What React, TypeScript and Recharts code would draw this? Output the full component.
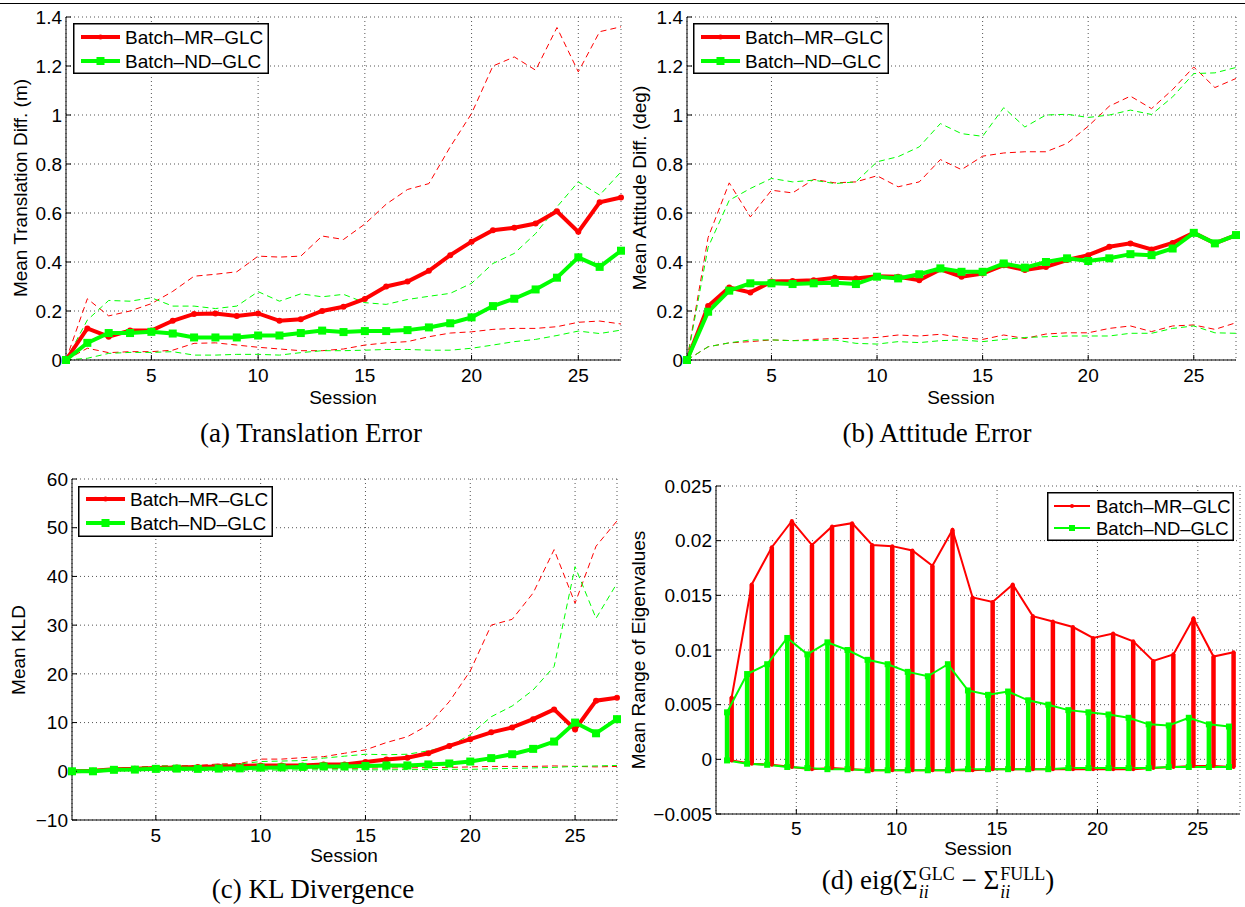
import React from "react";
import {
  CartesianGrid,
  ErrorBar,
  Legend,
  Line,
  LineChart,
  XAxis,
  YAxis,
} from "recharts";

// ---- data ----
const SESSIONS = [1, 2, 3, 4, 5, 6, 7, 8, 9, 10, 11, 12, 13, 14, 15, 16, 17, 18, 19, 20, 21, 22, 23, 24, 25, 26, 27];
const EIG_SESSIONS = [2, 3, 4, 5, 6, 7, 8, 9, 10, 11, 12, 13, 14, 15, 16, 17, 18, 19, 20, 21, 22, 23, 24, 25, 26, 27];
const X_TICKS = [5, 10, 15, 20, 25];

// (a) translation error
const transMr = [0, 0.129, 0.095, 0.12, 0.12, 0.16, 0.188, 0.19, 0.18, 0.19, 0.16, 0.166, 0.2, 0.217, 0.249, 0.3, 0.32, 0.364, 0.428, 0.483, 0.53, 0.54, 0.557, 0.607, 0.523, 0.644, 0.663];
const transNd = [0, 0.07, 0.11, 0.11, 0.115, 0.108, 0.092, 0.092, 0.092, 0.1, 0.1, 0.11, 0.12, 0.114, 0.118, 0.118, 0.122, 0.133, 0.15, 0.174, 0.22, 0.25, 0.288, 0.336, 0.419, 0.38, 0.446];
const transMrHi = [0, 0.25, 0.18, 0.2, 0.23, 0.28, 0.342, 0.35, 0.36, 0.424, 0.42, 0.424, 0.506, 0.492, 0.555, 0.636, 0.696, 0.72, 0.87, 1.006, 1.2, 1.237, 1.183, 1.357, 1.176, 1.34, 1.36];
const transNdHi = [0, 0.163, 0.243, 0.24, 0.254, 0.22, 0.22, 0.21, 0.22, 0.279, 0.24, 0.27, 0.258, 0.268, 0.234, 0.227, 0.247, 0.26, 0.272, 0.313, 0.394, 0.435, 0.516, 0.625, 0.727, 0.673, 0.768];
const transMrLo = [0, 0.048, 0.03, 0.034, 0.034, 0.04, 0.068, 0.07, 0.061, 0.052, 0.045, 0.038, 0.038, 0.045, 0.061, 0.07, 0.075, 0.095, 0.11, 0.115, 0.125, 0.129, 0.129, 0.136, 0.154, 0.159, 0.147];
const transNdLo = [0, 0.007, 0.027, 0.031, 0.031, 0.034, 0.02, 0.02, 0.023, 0.023, 0.02, 0.03, 0.038, 0.038, 0.04, 0.043, 0.043, 0.04, 0.04, 0.048, 0.061, 0.075, 0.084, 0.1, 0.118, 0.108, 0.122];

// (b) attitude error
const attMr = [0, 0.22, 0.296, 0.276, 0.32, 0.322, 0.326, 0.336, 0.333, 0.342, 0.34, 0.326, 0.37, 0.34, 0.353, 0.387, 0.367, 0.38, 0.408, 0.428, 0.462, 0.476, 0.451, 0.478, 0.519, 0.476, 0.51];
const attNd = [0, 0.197, 0.283, 0.313, 0.313, 0.31, 0.313, 0.315, 0.31, 0.34, 0.333, 0.35, 0.374, 0.36, 0.36, 0.394, 0.377, 0.4, 0.415, 0.404, 0.415, 0.432, 0.428, 0.455, 0.519, 0.476, 0.51];
const attMrHi = [0, 0.5, 0.723, 0.584, 0.693, 0.682, 0.737, 0.723, 0.727, 0.752, 0.707, 0.727, 0.818, 0.777, 0.832, 0.845, 0.85, 0.85, 0.884, 0.954, 1.036, 1.077, 1.026, 1.104, 1.196, 1.112, 1.149];
const attNdHi = [0, 0.46, 0.652, 0.7, 0.741, 0.727, 0.734, 0.72, 0.727, 0.809, 0.83, 0.87, 0.965, 0.924, 0.913, 1.03, 0.951, 1.0, 1.003, 0.99, 1.0, 1.02, 1.002, 1.074, 1.169, 1.172, 1.194];
const attMrLo = [0, 0.054, 0.07, 0.075, 0.082, 0.079, 0.084, 0.088, 0.088, 0.092, 0.102, 0.098, 0.105, 0.092, 0.084, 0.102, 0.088, 0.106, 0.111, 0.111, 0.129, 0.139, 0.116, 0.139, 0.143, 0.125, 0.152];
const attNdLo = [0, 0.054, 0.07, 0.082, 0.082, 0.079, 0.079, 0.082, 0.068, 0.065, 0.075, 0.071, 0.079, 0.082, 0.075, 0.084, 0.092, 0.095, 0.098, 0.098, 0.098, 0.109, 0.109, 0.129, 0.139, 0.111, 0.109];

// (c) KL divergence
const kldMr = [0, 0.1, 0.4, 0.5, 0.7, 0.8, 0.9, 1.0, 1.1, 1.2, 1.2, 1.2, 1.4, 1.4, 1.9, 2.4, 2.8, 3.7, 5.2, 6.6, 8.0, 9.0, 10.7, 12.7, 8.6, 14.5, 15.1];
const kldNd = [0, 0, 0.3, 0.35, 0.5, 0.55, 0.5, 0.55, 0.6, 0.75, 0.8, 0.9, 1.0, 1.0, 1.1, 1.2, 1.2, 1.4, 1.6, 2.0, 2.7, 3.5, 4.6, 6.1, 10.0, 7.8, 10.7];
const kldMrHi = [0, 0.3, 0.5, 0.75, 1.1, 1.1, 1.2, 1.5, 1.6, 2.5, 2.5, 2.8, 3.0, 3.7, 4.4, 5.9, 7.1, 9.5, 14.3, 20.6, 30.0, 31.2, 36.6, 45.5, 34.5, 46.2, 51.4];
const kldNdHi = [0, 0.3, 0.6, 0.8, 1.1, 1.1, 1.1, 1.3, 1.5, 2.0, 2.1, 2.2, 2.7, 3.1, 3.5, 3.4, 3.5, 4.2, 5.2, 7.5, 11.2, 13.4, 16.7, 21.5, 42.0, 31.4, 38.6];
const kldMrLo = [0, 0.1, 0.2, 0.3, 0.35, 0.4, 0.45, 0.5, 0.5, 0.55, 0.55, 0.6, 0.6, 0.6, 0.65, 0.7, 0.7, 0.75, 0.8, 0.9, 1.0, 1.0, 1.0, 1.1, 1.0, 0.9, 1.0];
const kldNdLo = [0, 0.05, 0.1, 0.15, 0.2, 0.2, 0.2, 0.2, 0.25, 0.25, 0.25, 0.3, 0.3, 0.3, 0.3, 0.3, 0.35, 0.35, 0.4, 0.4, 0.5, 0.6, 0.7, 0.8, 1.0, 1.1, 1.2];

// (d) range of eigenvalues (sessions 2..27)
const eigMrTop = [0.00566, 0.016, 0.0194, 0.0218, 0.0196, 0.0213, 0.0216, 0.0196, 0.0195, 0.0191, 0.0177, 0.021, 0.0148, 0.0144, 0.016, 0.0131, 0.0126, 0.0121, 0.0111, 0.0115, 0.0108, 0.009, 0.0096, 0.0129, 0.0094, 0.0098];
const eigMrBot = [-0.0001, -0.0004, -0.0005, -0.0007, -0.0009, -0.0008, -0.0009, -0.001, -0.001, -0.001, -0.001, -0.001, -0.001, -0.0009, -0.0009, -0.0009, -0.0009, -0.0009, -0.0009, -0.0009, -0.0009, -0.0008, -0.0007, -0.0006, -0.0006, -0.0007];
const eigNdTop = [0.0043, 0.0078, 0.0087, 0.0111, 0.0096, 0.0107, 0.01, 0.0091, 0.0087, 0.008, 0.0076, 0.0087, 0.0063, 0.0059, 0.0062, 0.0054, 0.005, 0.0045, 0.0043, 0.0041, 0.0038, 0.0032, 0.0031, 0.0038, 0.0032, 0.003];
const eigNdBot = [-0.0001, -0.0004, -0.0005, -0.0007, -0.0008, -0.0009, -0.0009, -0.001, -0.001, -0.001, -0.001, -0.001, -0.0009, -0.0009, -0.0009, -0.0009, -0.0009, -0.0008, -0.0008, -0.0008, -0.0008, -0.0008, -0.0007, -0.0007, -0.0007, -0.0007];
// errorbar groups are drawn slightly left of each session
const MR_SHIFT = -0.22;
const ND_SHIFT = -0.45;

const RED = "#ff0000";
const GREEN = "#00ff00";
const SANS = "'Liberation Sans', Arial, Helvetica, sans-serif";
const SERIF = "'Liberation Serif', 'Times New Roman', serif";
const FS = 19;

type Row = Record<string, number>;

function buildRows(cols: Record<string, number[]>): Row[] {
  return SESSIONS.map((s, i) => {
    const r: Row = { session: s };
    for (const k of Object.keys(cols)) r[k] = cols[k][i];
    return r;
  });
}

function eigRows(top: number[], bot: number[], shift: number) {
  return EIG_SESSIONS.map((s, i) => ({
    x: s + shift,
    top: top[i],
    bot: bot[i],
    err: [top[i] - bot[i], 0],
  }));
}

const fmt = (v: number) => String(v).replace("-", "\u2212");

const squareDot = (size: number, color: string) => (p: any) => {
  if (p.cx == null || p.cy == null) return <g key={p.index} />;
  return (
    <rect key={p.index} x={p.cx - size / 2} y={p.cy - size / 2} width={size} height={size} fill={color} />
  );
};

const roundDot = (r: number, color: string) => (p: any) => {
  if (p.cx == null || p.cy == null) return <g key={p.index} />;
  return <circle key={p.index} cx={p.cx} cy={p.cy} r={r} fill={color} />;
};

type LegendOpts = {
  w: number;
  h: number;
  rowY: [number, number];
  x0: number;
  x1: number;
  tx: number;
  font: number;
  lineW: number;
  dotR: number;
  sq: number;
};

function legendContent(o: LegendOpts) {
  const mid = (o.x0 + o.x1) / 2;
  return () => (
    <svg width={o.w} height={o.h} style={{ display: "block" }}>
      <rect x={0.75} y={0.75} width={o.w - 1.5} height={o.h - 1.5} fill="#fff" stroke="#000" strokeWidth={1.5} />
      <line x1={o.x0} x2={o.x1} y1={o.rowY[0]} y2={o.rowY[0]} stroke={RED} strokeWidth={o.lineW} />
      <circle cx={mid} cy={o.rowY[0]} r={o.dotR} fill={RED} />
      <text x={o.tx} y={o.rowY[0]} dominantBaseline="central" fontSize={o.font} fontFamily={SANS} fill="#000">
        Batch–MR–GLC
      </text>
      <line x1={o.x0} x2={o.x1} y1={o.rowY[1]} y2={o.rowY[1]} stroke={GREEN} strokeWidth={o.lineW} />
      <rect x={mid - o.sq / 2} y={o.rowY[1] - o.sq / 2} width={o.sq} height={o.sq} fill={GREEN} />
      <text x={o.tx} y={o.rowY[1]} dominantBaseline="central" fontSize={o.font} fontFamily={SANS} fill="#000">
        Batch–ND–GLC
      </text>
    </svg>
  );
}

const tickStyle = { fontSize: FS, fill: "#000", fontFamily: SANS };
// MATLAB draws short ticks pointing into the plot
const TICK_IN = -5;

type PanelProps = {
  left: number;
  top: number;
  width: number;
  height: number;
  axisW: number;
  margin: { top: number; right: number; bottom: number; left: number };
  yDomain: [number, number];
  yTicks: number[];
  rows: Row[];
  legend: LegendOpts & { left: number; top: number };
};

function Panel(p: PanelProps) {
  return (
    <div style={{ position: "absolute", left: p.left, top: p.top }}>
      <LineChart width={p.width} height={p.height} data={p.rows} margin={p.margin}>
        <CartesianGrid stroke="#555" strokeDasharray="1 3" />
        <XAxis
          dataKey="session"
          type="number"
          domain={[1, 27]}
          ticks={X_TICKS}
          tick={tickStyle}
          tickLine={{ stroke: "#000" }}
          tickSize={TICK_IN}
          tickMargin={14}
          height={45}
          axisLine={{ stroke: "#000" }}
        />
        <YAxis
          type="number"
          domain={p.yDomain}
          ticks={p.yTicks}
          tickFormatter={fmt}
          tick={tickStyle}
          tickLine={{ stroke: "#000" }}
          tickSize={TICK_IN}
          tickMargin={9}
          width={p.axisW}
          axisLine={{ stroke: "#000" }}
          interval={0}
        />
        <Line dataKey="mrHi" stroke={RED} strokeWidth={1} strokeDasharray="6 4" dot={false} isAnimationActive={false} />
        <Line dataKey="mrLo" stroke={RED} strokeWidth={1} strokeDasharray="6 4" dot={false} isAnimationActive={false} />
        <Line dataKey="ndHi" stroke={GREEN} strokeWidth={1} strokeDasharray="6 4" dot={false} isAnimationActive={false} />
        <Line dataKey="ndLo" stroke={GREEN} strokeWidth={1} strokeDasharray="6 4" dot={false} isAnimationActive={false} />
        <Line dataKey="mr" stroke={RED} strokeWidth={4} dot={roundDot(3, RED)} isAnimationActive={false} />
        <Line dataKey="nd" stroke={GREEN} strokeWidth={4} dot={squareDot(8, GREEN)} isAnimationActive={false} />
        <Legend
          layout="vertical"
          align="center"
          verticalAlign="middle"
          content={legendContent(p.legend)}
          wrapperStyle={{ left: p.legend.left, top: p.legend.top, width: p.legend.w, height: p.legend.h }}
        />
      </LineChart>
    </div>
  );
}

function AbsText({ x, y, size, rotate, serif, children }: any) {
  return (
    <div
      style={{
        position: "absolute",
        left: x,
        top: y,
        transform: `translate(-50%, -50%)${rotate ? " rotate(-90deg)" : ""}`,
        fontFamily: serif ? SERIF : SANS,
        fontSize: size,
        whiteSpace: "nowrap",
        lineHeight: 1,
        color: "#000",
      }}
    >
      {children}
    </div>
  );
}

function SupSub({ sup, sub }: { sup: string; sub: string }) {
  return (
    <span
      style={{
        display: "inline-flex",
        flexDirection: "column",
        fontSize: 18,
        lineHeight: "18px",
        verticalAlign: "9px",
        marginLeft: 1,
      }}
    >
      <span>{sup}</span>
      <span style={{ fontStyle: "italic" }}>{sub}</span>
    </span>
  );
}

const bigLegend = { w: 196, h: 51, rowY: [14, 38] as [number, number], x0: 8, x1: 47, tx: 52, font: FS, lineW: 4, dotR: 2.5, sq: 8 };

export default function App() {
  const transRows = buildRows({ mr: transMr, nd: transNd, mrHi: transMrHi, ndHi: transNdHi, mrLo: transMrLo, ndLo: transNdLo });
  const attRows = buildRows({ mr: attMr, nd: attNd, mrHi: attMrHi, ndHi: attNdHi, mrLo: attMrLo, ndLo: attNdLo });
  const kldRows = buildRows({ mr: kldMr, nd: kldNd, mrHi: kldMrHi, ndHi: kldNdHi, mrLo: kldMrLo, ndLo: kldNdLo });
  const mrEig = eigRows(eigMrTop, eigMrBot, MR_SHIFT);
  const ndEig = eigRows(eigNdTop, eigNdBot, ND_SHIFT);

  return (
    <div style={{ position: "absolute", left: 0, top: 0, width: 1245, height: 907, background: "#fff", overflow: "hidden" }}>
      <div style={{ position: "absolute", left: 0, top: 3, width: 1245, height: 1, background: "#000" }} />

      <Panel
        left={0}
        top={0}
        width={640}
        height={420}
        axisW={66}
        margin={{ top: 17, right: 19, bottom: 15, left: 0 }}
        yDomain={[0, 1.4]}
        yTicks={[0, 0.2, 0.4, 0.6, 0.8, 1, 1.2, 1.4]}
        rows={transRows}
        legend={{ ...bigLegend, left: 73, top: 23 }}
      />
      <Panel
        left={620}
        top={0}
        width={625}
        height={420}
        axisW={67}
        margin={{ top: 17, right: 9, bottom: 15, left: 0 }}
        yDomain={[0, 1.4]}
        yTicks={[0, 0.2, 0.4, 0.6, 0.8, 1, 1.2, 1.4]}
        rows={attRows}
        legend={{ ...bigLegend, left: 73, top: 23 }}
      />
      <Panel
        left={0}
        top={460}
        width={640}
        height={420}
        axisW={72}
        margin={{ top: 19, right: 23, bottom: 15, left: 0 }}
        yDomain={[-10, 60]}
        yTicks={[-10, 0, 10, 20, 30, 40, 50, 60]}
        rows={kldRows}
        legend={{ ...bigLegend, w: 195, rowY: [13, 37], left: 78, top: 26 }}
      />

      <div style={{ position: "absolute", left: 620, top: 460 }}>
        <LineChart width={625} height={420} margin={{ top: 26, right: 5, bottom: 21, left: 0 }}>
          <CartesianGrid stroke="#555" strokeDasharray="1 3" />
          <XAxis
            dataKey="x"
            type="number"
            domain={[1, 27.1]}
            ticks={X_TICKS}
            tick={tickStyle}
            tickLine={{ stroke: "#000" }}
            tickSize={TICK_IN}
            tickMargin={13}
            height={45}
            axisLine={{ stroke: "#000" }}
            allowDuplicatedCategory={false}
          />
          <YAxis
            type="number"
            domain={[-0.005, 0.025]}
            ticks={[-0.005, 0, 0.005, 0.01, 0.015, 0.02, 0.025]}
            tickFormatter={fmt}
            tick={tickStyle}
            tickLine={{ stroke: "#000" }}
            tickSize={TICK_IN}
            tickMargin={9}
            width={96}
            axisLine={{ stroke: "#000" }}
            interval={0}
          />
          <Line data={mrEig} dataKey="top" stroke={RED} strokeWidth={2} dot={roundDot(2, RED)} isAnimationActive={false}>
            <ErrorBar dataKey="err" direction="y" width={0} stroke={RED} strokeWidth={4.5} />
          </Line>
          <Line data={mrEig} dataKey="bot" stroke={RED} strokeWidth={2} dot={roundDot(2, RED)} isAnimationActive={false} />
          <Line data={ndEig} dataKey="top" stroke={GREEN} strokeWidth={2} dot={squareDot(6, GREEN)} isAnimationActive={false}>
            <ErrorBar dataKey="err" direction="y" width={0} stroke={GREEN} strokeWidth={4.5} />
          </Line>
          <Line data={ndEig} dataKey="bot" stroke={GREEN} strokeWidth={2} dot={squareDot(6, GREEN)} isAnimationActive={false} />
          <Legend
            layout="vertical"
            align="center"
            verticalAlign="middle"
            content={legendContent({ w: 187, h: 49, rowY: [14, 36], x0: 7, x1: 43, tx: 49, font: 18.5, lineW: 2, dotR: 2, sq: 6 })}
            wrapperStyle={{ left: 427, top: 32, width: 187, height: 49 }}
          />
        </LineChart>
      </div>

      {/* axis titles */}
      <AbsText x={20} y={188} size={FS} rotate>Mean Translation Diff. (m)</AbsText>
      <AbsText x={639} y={188} size={FS} rotate>Mean Attitude Diff. (deg)</AbsText>
      <AbsText x={18} y={650} size={FS} rotate>Mean KLD</AbsText>
      <AbsText x={638} y={650} size={FS} rotate>Mean Range of Eigenvalues</AbsText>
      <AbsText x={343} y={397} size={FS}>Session</AbsText>
      <AbsText x={961} y={397} size={FS}>Session</AbsText>
      <AbsText x={344} y={855} size={FS}>Session</AbsText>
      <AbsText x={978} y={848} size={FS}>Session</AbsText>

      {/* captions */}
      <AbsText x={311} y={433} size={27} serif>(a) Translation Error</AbsText>
      <AbsText x={937} y={433} size={27} serif>(b) Attitude Error</AbsText>
      <AbsText x={313} y={889} size={27} serif>(c) KL Divergence</AbsText>
      <AbsText x={938} y={883} size={27} serif>
        (d) eig(Σ<SupSub sup="GLC" sub="ii" /> − Σ<SupSub sup="FULL" sub="ii" />)
      </AbsText>
    </div>
  );
}
